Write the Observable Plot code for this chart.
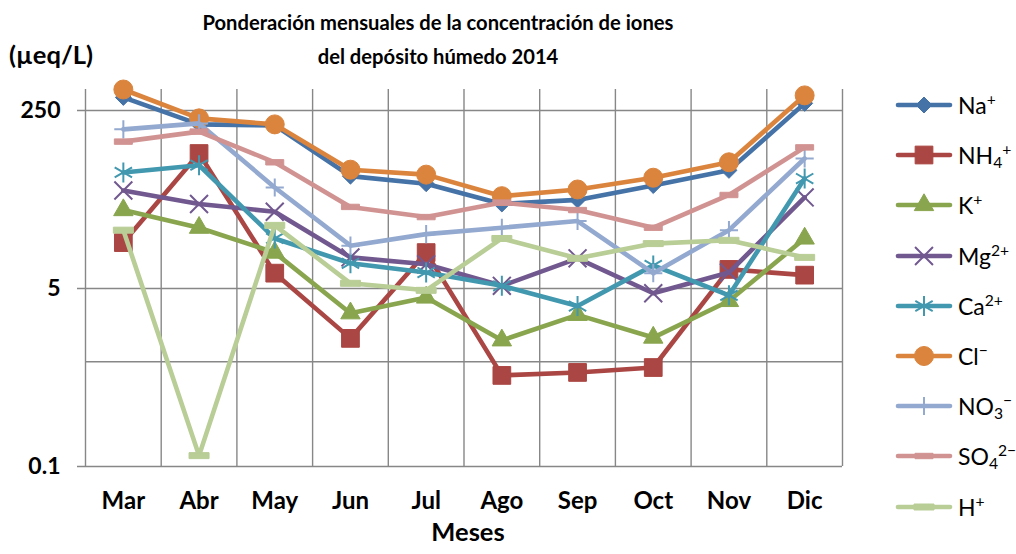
<!DOCTYPE html>
<html>
<head>
<meta charset="utf-8">
<script src="https://cdn.jsdelivr.net/npm/d3@7"></script>
<script src="https://cdn.jsdelivr.net/npm/@observablehq/plot@0.6"></script>
<style>
  body { margin: 0; background: #fff; }
  #wrap { position: relative; width: 1016px; height: 554px; font-family: Lato, "Open Sans", sans-serif; color: #000; overflow: hidden; }
  #chart { position: absolute; left: 0; top: 0; }
  .title { position: absolute; left: 0; width: 876px; text-align: center; font-weight: bold; font-size: 20.2px; line-height: 34px; top: 5px; }
  #unit { position: absolute; left: 9px; top: 39px; font-weight: bold; font-size: 25.5px; }
  #xlabel { position: absolute; left: 0; width: 936px; text-align: center; top: 516px; font-weight: bold; font-size: 25.5px; }
  #legend { position: absolute; left: 894px; top: 0; }
  .row { position: absolute; left: 0; height: 30px; display: flex; align-items: center; white-space: nowrap; font-size: 23px; }
  .row svg { margin-right: 4px; }
  sup { font-size: 0.68em; vertical-align: 0.6em; line-height: 0; }
  sub { font-size: 0.68em; vertical-align: -0.25em; line-height: 0; }
</style>
</head>
<body>
<div id="wrap">
  <div class="title">Ponderación mensuales de la concentración de iones<br>del depósito húmedo 2014</div>
  <div id="unit">(µeq/L)</div>
  <div id="chart"></div>
  <div id="xlabel">Meses</div>
  <div id="legend"></div>
</div>
<script>
// ---- Data (µeq/L) ----
const months = ["Mar", "Abr", "May", "Jun", "Jul", "Ago", "Sep", "Oct", "Nov", "Dic"];
const Na  = [333, 184, 180, 59, 50, 32, 35, 48, 67, 292];
const NH4 = [13.7, 97, 7.0, 1.67, 11, 0.74, 0.79, 0.88, 7.6, 6.7];
const K   = [28, 19, 11, 2.9, 4.1, 1.6, 2.8, 1.7, 3.8, 15];
const Mg  = [43, 32, 27, 9.9, 8.5, 5.3, 9.7, 4.5, 7.1, 37];
const Ca  = [64, 75, 15, 8.7, 7.1, 5.3, 3.4, 8.3, 4.3, 56];
const Cl  = [396, 210, 184, 68, 61, 38, 44, 57, 80, 348];
const NO3 = [165, 188, 46, 12.8, 16.5, 19, 22, 7.0, 18, 87];
const SO4 = [126, 157, 80, 30, 24, 33, 28, 19, 39, 111];
const H   = [18, 0.127, 20, 5.6, 4.8, 15, 9.7, 13.4, 14.4, 9.9];
const yTicks = [0.1, 5, 250];
const yTickLabels = ["0.1", "5", "250"];
const yMinorGrid = [1];

const dash = { draw(ctx, size) { const r = Math.sqrt(size / Math.PI); ctx.rect(-r, -r * 0.3, 2 * r, r * 0.6); } };

const series = [
  { name: "Na",  html: "Na<sup>+</sup>",                 values: Na,  color: "#4572A7", symbol: "diamond2", d3s: d3.symbolDiamond2, r: 7.2, filled: true },
  { name: "NH4", html: "NH<sub>4</sub><sup>+</sup>",     values: NH4, color: "#AA4643", symbol: "square",   d3s: d3.symbolSquare,   r: 10,  filled: true },
  { name: "K",   html: "K<sup>+</sup>",                  values: K,   color: "#89A54E", symbol: "triangle", d3s: d3.symbolTriangle, r: 7.2, filled: true },
  { name: "Mg",  html: "Mg<sup>2+</sup>",                values: Mg,  color: "#71588F", symbol: "times",    d3s: d3.symbolTimes,    r: 8.2, filled: false },
  { name: "Ca",  html: "Ca<sup>2+</sup>",                values: Ca,  color: "#4198AF", symbol: "asterisk", d3s: d3.symbolAsterisk, r: 9.5, filled: false },
  { name: "Cl",  html: "Cl<sup>−</sup>",                 values: Cl,  color: "#DB843D", symbol: "circle",   d3s: d3.symbolCircle,   r: 9.5, filled: true },
  { name: "NO3", html: "NO<sub>3</sub><sup>−</sup>",     values: NO3, color: "#93A9CF", symbol: "plus",     d3s: d3.symbolPlus,     r: 5.9, filled: false },
  { name: "SO4", html: "SO<sub>4</sub><sup>2−</sup>",    values: SO4, color: "#D19392", symbol: dash,       d3s: dash,              r: 9,   filled: true },
  { name: "H",   html: "H<sup>+</sup>",                  values: H,   color: "#B9CD96", symbol: dash,       d3s: dash,              r: 10,  filled: true }
];

const gridColor = "#878787";
const marks = [
  // minor gridline (no outside tick)
  Plot.ruleY(yMinorGrid, { stroke: gridColor, strokeWidth: 1.4 }),
  // major gridlines, extended left to form the axis ticks
  Plot.ruleY(yTicks, { stroke: gridColor, strokeWidth: 1.4, insetLeft: -8 }),
  Plot.ruleX(d3.range(-0.5, months.length, 1), { stroke: gridColor, strokeWidth: 1.4 }),
  Plot.text(yTicks, { y: d => d, text: (d, i) => yTickLabels[i], frameAnchor: "left", textAnchor: "end", dx: -25, fontSize: 23, fontWeight: "bold", fill: "#000" }),
  Plot.axisX({ anchor: "bottom", ticks: d3.range(months.length), tickFormat: i => months[i], label: null, tickSize: 0, tickPadding: 25, fontSize: 24, fontWeight: "bold", fill: "#000" })
];
for (const s of series) {
  const data = s.values.map((v, i) => ({ i, v }));
  marks.push(Plot.line(data, { x: "i", y: "v", stroke: s.color, strokeWidth: 4.6, strokeLinejoin: "round", strokeLinecap: "round" }));
  marks.push(Plot.dot(data, { x: "i", y: "v", symbol: s.symbol, r: s.r, fill: s.filled ? s.color : "none", stroke: s.color, strokeWidth: s.filled ? 1 : 2 }));
}

const chart = Plot.plot({
  width: 1016,
  height: 554,
  marginLeft: 85,
  marginRight: 174,
  marginTop: 89,
  marginBottom: 88,
  x: { type: "linear", domain: [-0.5, months.length - 0.5], axis: null },
  y: { type: "log", domain: [0.1, 396], axis: null },
  style: { fontFamily: "Lato, 'Open Sans', sans-serif", background: "transparent", overflow: "visible" },
  marks
});
document.getElementById("chart").append(chart);

// ---- Legend ----
const legend = d3.select("#legend");
series.forEach((s, k) => {
  const row = legend.append("div").attr("class", "row").style("top", (105 + k * 50.2 - 15) + "px");
  const svg = row.append("svg").attr("width", 60).attr("height", 30);
  svg.append("line").attr("x1", 4).attr("x2", 56).attr("y1", 15).attr("y2", 15)
    .attr("stroke", s.color).attr("stroke-width", 4.6).attr("stroke-linecap", "round");
  svg.append("path").attr("transform", "translate(30,15)")
    .attr("d", d3.symbol(s.d3s, Math.PI * s.r * s.r)())
    .attr("fill", s.filled ? s.color : "none").attr("stroke", s.color).attr("stroke-width", s.filled ? 1 : 2);
  row.append("span").html(s.html);
});
</script>
</body>
</html>
